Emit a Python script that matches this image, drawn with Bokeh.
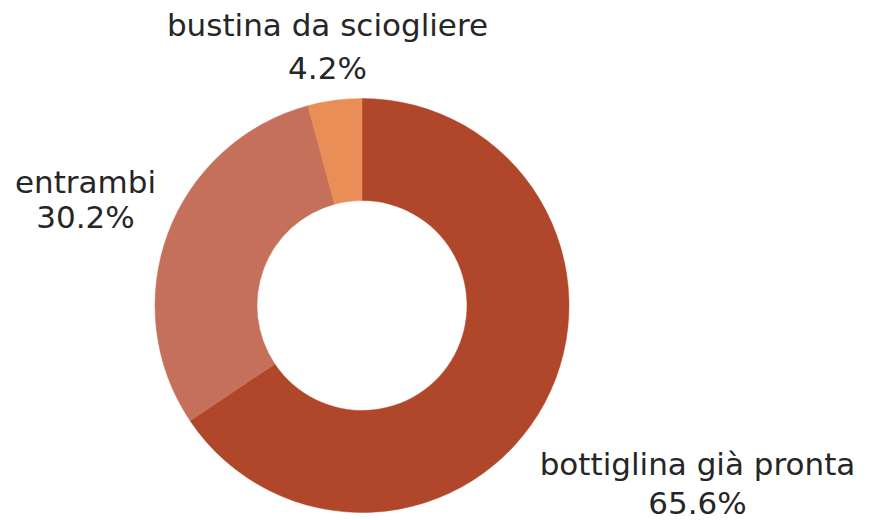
import math
from bokeh.plotting import figure
from bokeh.models import Range1d, ColumnDataSource
from bokeh.core.properties import value
from bokeh.embed import file_html
from bokeh.resources import INLINE

# ---- data ----
categories = ["bottiglina già pronta", "entrambi", "bustina da sciogliere"]
percent = [65.6, 30.2, 4.2]
colors = ["#B0462A", "#C4705A", "#E98E57"]

# ---- layout ----
W, H = 869, 520
CX, CY = 361.5, H - 305
R_OUT, R_IN = 207, 105
BASE_SHIFT = 12  # renderer places alphabetic baseline lower than measured
# label centres (pixels from top-left) and half line gap
label_pos = {"bottiglina già pronta": (697, 494.5, 19.5),
             "entrambi": (85, 210.5, 17.5),
             "bustina da sciogliere": (327, 57.5, 21.5)}

total = sum(percent)
starts, ends = [], []
cum = 0.0
for v in percent:
    starts.append(math.pi / 2 - 2 * math.pi * cum / total)
    cum += v
    ends.append(math.pi / 2 - 2 * math.pi * cum / total)

src = ColumnDataSource(dict(x=[CX] * len(percent), y=[CY] * len(percent),
                            start=starts, end=ends, color=colors))

p = figure(width=W, height=H, output_backend="svg", toolbar_location=None,
           x_range=Range1d(0, W), y_range=Range1d(0, H),
           x_axis_location=None, y_axis_location=None, min_border=0)
p.grid.visible = False
p.outline_line_color = None
p.background_fill_color = "white"
p.border_fill_color = "white"

p.annular_wedge(x="x", y="y", inner_radius=R_IN, outer_radius=R_OUT,
                start_angle="start", end_angle="end", direction="clock",
                fill_color="color", line_color="color", line_width=0.5,
                source=src, inner_radius_units="screen", outer_radius_units="screen")

lx, ly, lt = [], [], []
for c, v in zip(categories, percent):
    x, yc, g = label_pos[c]
    lx += [x, x]
    ly += [H - (yc - g - BASE_SHIFT), H - (yc + g - BASE_SHIFT)]
    lt += [c, f"{v:.1f}%"]

p.text(x=lx, y=ly, text=lt, text_align="center", text_baseline="alphabetic",
       text_font=value("DejaVu Sans"), text_font_size="31px", text_color="#262626")

open("out.html", "w").write(file_html(p, INLINE))
